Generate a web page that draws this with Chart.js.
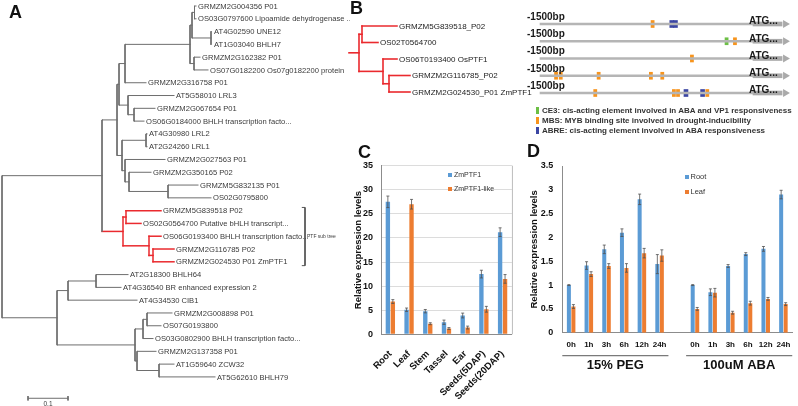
<!DOCTYPE html>
<html>
<head>
<meta charset="utf-8">
<script src="https://cdn.jsdelivr.net/npm/chart.js@4.4.1/dist/chart.umd.min.js"></script>
<style>
  html, body { margin: 0; padding: 0; background: #fff; }
  body { width: 798px; height: 406px; position: relative; overflow: hidden;
         font-family: "Liberation Sans", Arial, sans-serif; }
  canvas { position: absolute; }
  .tag { position: absolute; font-weight: bold; font-size: 18px; line-height: 18px; color: #111; }
  .sw { position: absolute; }
  .txt { position: absolute; white-space: nowrap; color: #333; }
</style>
</head>
<body>
<canvas id="treeA" width="350" height="406" style="left:0;top:0"></canvas>
<canvas id="treeB" width="200" height="95" style="left:340px;top:10px"></canvas>
<canvas id="promoter" width="278" height="90" style="left:520px;top:10px"></canvas>
<canvas id="chartC" width="185" height="256" style="left:340px;top:150px"></canvas>
<canvas id="chartD" width="275" height="256" style="left:523px;top:150px"></canvas>

<div class="tag" style="left:9px;top:3px">A</div>
<div class="tag" style="left:350px;top:-1px">B</div>
<div class="tag" style="left:358px;top:143px">C</div>
<div class="tag" style="left:527px;top:142px">D</div>

<!-- promoter legend -->
<div class="sw" style="left:536px;top:106.5px;width:3px;height:7px;background:#6cbf45"></div>
<div class="txt" style="left:542px;top:105.5px;font-size:8px;line-height:9px;font-weight:bold">CE3: cis-acting element involved in ABA and VP1 responsiveness</div>
<div class="sw" style="left:536px;top:116.5px;width:3px;height:7px;background:#f7941d"></div>
<div class="txt" style="left:542px;top:115.5px;font-size:8px;line-height:9px;font-weight:bold">MBS: MYB binding site involved in drought-inducibility</div>
<div class="sw" style="left:536px;top:126.5px;width:3px;height:7px;background:#3b46a3"></div>
<div class="txt" style="left:542px;top:125.5px;font-size:8px;line-height:9px;font-weight:bold">ABRE: cis-acting element involved in ABA responsiveness</div>

<!-- chart C legend -->
<div class="sw" style="left:447.5px;top:173px;width:4px;height:4px;background:#5b9bd5"></div>
<div class="txt" style="left:454px;top:171px;font-size:7px;line-height:8px">ZmPTF1</div>
<div class="sw" style="left:447.5px;top:187px;width:4px;height:4px;background:#ed7d31"></div>
<div class="txt" style="left:454px;top:185px;font-size:7px;line-height:8px">ZmPTF1-like</div>

<!-- chart D legend -->
<div class="sw" style="left:685px;top:175px;width:4px;height:4px;background:#5b9bd5"></div>
<div class="txt" style="left:690.5px;top:173px;font-size:7.5px;line-height:8px">Root</div>
<div class="sw" style="left:685px;top:190px;width:4px;height:4px;background:#ed7d31"></div>
<div class="txt" style="left:690.5px;top:188px;font-size:7.5px;line-height:8px">Leaf</div>

<script>
// ---------- data ----------
const treeALeaves = [
  'GRMZM2G004356 P01', 'OS03G0797600 Lipoamide dehydrogenase ...', 'AT4G02590 UNE12',
  'AT1G03040 BHLH7', 'GRMZM2G162382 P01', 'OS07G0182200 Os07g0182200 protein',
  'GRMZM2G316758 P01', 'AT5G58010 LRL3', 'GRMZM2G067654 P01',
  'OS06G0184000 BHLH transcription facto...', 'AT4G30980 LRL2', 'AT2G24260 LRL1',
  'GRMZM2G027563 P01', 'GRMZM2G350165 P02', 'GRMZM5G832135 P01', 'OS02G0795800',
  'GRMZM5G839518 P02', 'OS02G0564700 Putative bHLH transcript...',
  'OS06G0193400 BHLH transcription facto...', 'GRMZM2G116785 P02', 'GRMZM2G024530 P01 ZmPTF1',
  'AT2G18300 BHLH64', 'AT4G36540 BR enhanced expression 2', 'AT4G34530 CIB1',
  'GRMZM2G008898 P01', 'OS07G0193800', 'OS03G0802900 BHLH transcription facto...',
  'GRMZM2G137358 P01', 'AT1G59640 ZCW32', 'AT5G62610 BHLH79'
];
// topology with branch lengths, leaves referenced by index
const treeANewick = '((((((((0:0.00375,1:0.00375):0.00625,(2:0.0025,3:0.0025):0.0475):0.005,(4:0.015,5:0.035):0.01):0.1625,6:0.0525):0.015,(7:0.115,(8:0.0525,9:0.025):0.015):0.0225):0.005,((10:0.0025,11:0.0025):0.06,(12:0.1,(13:0.055,(14:0.075,15:0.1075):0.0975):0.01):0.0075):0.0125):0.0375,((16:0.0875,17:0.0375):0.0075,(18:0.03,(19:0.0525,20:0.0525):0.01):0.065):0.0525):0.25,(((21:0.08,22:0.0625):0.07,23:0.1725):0.0275,(((24:0.0625,25:0.035):0.01,26:0.025):0.02,(27:0.0475,(28:0.0375,29:0.14):0.055):0.005):0.195):0.1375);';
const ptfSubTree = [16, 17, 18, 19, 20];

const treeBLeaves = ['GRMZM5G839518_P02', 'OS02T0564700', 'OS06T0193400 OsPTF1',
  'GRMZM2G116785_P02', 'GRMZM2G024530_P01 ZmPTF1'];
const treeBNewick = '(((0:0.0875,1:0.04):0.0075,(2:0.035,(3:0.0525,4:0.0525):0.015):0.06):0.025);';

const promoterRows = [0, 1, 2, 3, 4];
const mbsRow = [0, 1, 2, 3, 3, 3, 3, 3, 4, 4, 4, 4];
const mbsPos = [-707, -127, -430, -1387, -1354, -1087, -719, -639, -1111, -557, -528, -322];
const ce3Row = [1];
const ce3Pos = [-186];
const abreRow = [0, 0, 4, 4];
const abrePos = [-572, -546, -472, -355];

const tissues = ['Root', 'Leaf', 'Stem', 'Tassel', 'Ear', 'Seeds(5DAP)', 'Seeds(20DAP)'];
const ptf1 = [27.5, 5.1, 4.8, 2.5, 3.9, 12.5, 21.2];
const ptf1Err = [1.2, 0.35, 0.35, 0.45, 0.5, 0.8, 0.9];
const ptf1Like = [6.8, 27.0, 2.2, 1.2, 1.4, 5.2, 11.5];
const ptf1LikeErr = [0.4, 1.0, 0.2, 0.2, 0.3, 0.6, 0.9];

const times = ['0h', '1h', '3h', '6h', '12h', '24h', '', '0h', '1h', '3h', '6h', '12h', '24h'];
const rootVals = [1.0, 1.41, 1.75, 2.10, 2.80, 1.44, null, 1.0, 0.85, 1.40, 1.65, 1.76, 2.90];
const rootErr = [0.01, 0.08, 0.09, 0.08, 0.11, 0.2, null, 0.01, 0.07, 0.03, 0.03, 0.05, 0.09];
const leafVals = [0.55, 1.23, 1.40, 1.36, 1.67, 1.62, null, 0.50, 0.84, 0.42, 0.62, 0.71, 0.60];
const leafErr = [0.04, 0.05, 0.05, 0.09, 0.1, 0.12, null, 0.03, 0.09, 0.03, 0.04, 0.03, 0.03];
const treatments = ['15% PEG', '100uM ABA'];
const treatmentFrom = [0, 7];
const treatmentTo = [5, 12];

const BLUE = '#5b9bd5', ORANGE = '#ed7d31';
const FONT = '"Liberation Sans", Arial, sans-serif';

// ---------- trees ----------
function parseNewick(s) {
  let i = 0;
  function node() {
    const n = {children: []};
    if (s[i] === '(') {
      i++;
      n.children.push(node());
      while (s[i] === ',') { i++; n.children.push(node()); }
      i++;
    }
    let name = '';
    while (i < s.length && !':,();'.includes(s[i])) name += s[i++];
    n.name = name;
    n.len = 0;
    if (s[i] === ':') {
      i++;
      let num = '';
      while (i < s.length && !',();'.includes(s[i])) num += s[i++];
      n.len = parseFloat(num);
    }
    return n;
  }
  return node();
}

function treeChart(id, newick, names, cfg) {
  const root = parseNewick(newick);
  const leaves = [];
  (function walk(n, px) {
    n.x = px + n.len;
    n.children.forEach(c => walk(c, n.x));
    if (!n.children.length) { n.row = +n.name; leaves.push(n); n.red = cfg.isRed(n.row); }
    else {
      n.row = (n.children[0].row + n.children[n.children.length - 1].row) / 2;
      n.red = n.children.every(c => c.red);
    }
  })(root, 0);

  const datasets = [];
  const seg = (a, b, red) => datasets.push({
    data: [a, b], showLine: true, pointRadius: 0, borderCapStyle: 'square',
    borderColor: red ? cfg.red : cfg.grey, borderWidth: red ? cfg.redWidth : 1
  });
  (function edges(n) {
    if (n.children.length) {
      const f = n.children[0], l = n.children[n.children.length - 1];
      if (f !== l) seg({x: n.x, y: f.row}, {x: n.x, y: l.row}, n.red);
      n.children.forEach(c => { seg({x: n.x, y: c.row}, {x: c.x, y: c.row}, c.red); edges(c); });
    }
  })(root);
  (cfg.extra || []).forEach(d => datasets.push(Object.assign(
    {showLine: true, pointRadius: 0, borderColor: cfg.grey, borderWidth: 1}, d)));

  const cv = document.getElementById(id);
  const W = cv.width, H = cv.height;
  new Chart(cv, {
    type: 'scatter',
    data: {datasets},
    options: {
      responsive: false, animation: false,
      layout: {padding: 0, autoPadding: false},
      plugins: {legend: {display: false}, tooltip: {enabled: false}},
      scales: {
        x: {type: 'linear', display: false, min: -cfg.x0 / cfg.unit, max: (W - cfg.x0) / cfg.unit},
        y: {type: 'linear', display: false, reverse: true,
            min: -cfg.y0 / cfg.row, max: (H - cfg.y0) / cfg.row}
      }
    },
    plugins: [{
      id: 'leafLabels',
      afterDatasetsDraw(chart) {
        const {ctx, scales: {x, y}} = chart;
        ctx.save();
        ctx.font = cfg.font;
        ctx.fillStyle = cfg.text;
        ctx.textBaseline = 'middle';
        leaves.forEach(l => ctx.fillText(names[+l.name],
          x.getPixelForValue(l.x) + 2, y.getPixelForValue(l.row) + 0.5));
        if (cfg.afterDraw) cfg.afterDraw(ctx, x, y);
        ctx.restore();
      }
    }]
  });
}

const subTop = ptfSubTree[0] - 0.25, subBot = ptfSubTree[ptfSubTree.length - 1] + 0.3;
treeChart('treeA', treeANewick, treeALeaves, {
  x0: 2, unit: 400, y0: 6, row: 12.79,
  isRed: r => ptfSubTree.includes(r),
  grey: '#6e6e6e', red: '#ea2a2e', redWidth: 1.5,
  font: '7.6px ' + FONT, text: '#3a3a3a',
  extra: [
    {data: [{x: 0.065, y: 30.67}, {x: 0.165, y: 30.67}]},
    {data: [{x: 0.065, y: 30.5}, {x: 0.065, y: 30.84}]},
    {data: [{x: 0.165, y: 30.5}, {x: 0.165, y: 30.84}]},
    {data: [{x: 0.7495, y: subTop}, {x: 0.7575, y: subTop}, {x: 0.7575, y: subBot}, {x: 0.7495, y: subBot}], borderColor: '#555'}
  ],
  afterDraw(ctx, x, y) {
    ctx.font = '6.5px ' + FONT;
    ctx.textAlign = 'center';
    ctx.fillText('0.1', x.getPixelForValue(0.115), y.getPixelForValue(31.1));
    ctx.textAlign = 'left';
    ctx.font = '5px ' + FONT;
    ctx.fillText('PTF sub tree', x.getPixelForValue(0.7625), y.getPixelForValue((subTop + subBot) / 2));
  }
});

treeChart('treeB', treeBNewick, treeBLeaves, {
  x0: 9, unit: 400, y0: 16, row: 16.5,
  isRed: () => true,
  grey: '#6e6e6e', red: '#ea2a2e', redWidth: 1.6,
  font: '8px ' + FONT, text: '#222'
});

// ---------- promoter map ----------
const box = 11;
new Chart(document.getElementById('promoter'), {
  type: 'bar',
  data: {
    datasets: [
      {data: promoterRows.map(r => ({x: [-1500, 0], y: r})), backgroundColor: '#b5b5b5', barThickness: 1.6, grouped: false},
      {data: promoterRows.map(r => ({x: [0, 205], y: r})), backgroundColor: '#aaaaaa', barThickness: 4, grouped: false},
      {type: 'scatter', data: promoterRows.map(r => ({x: 228, y: r})), pointStyle: 'triangle', rotation: 90,
       pointRadius: 4.6, backgroundColor: '#aaaaaa', borderWidth: 0},
      {data: mbsPos.map((p, i) => ({x: [p - box, p + box], y: mbsRow[i]})), backgroundColor: '#f7941d', barThickness: 7, grouped: false},
      {data: ce3Pos.map((p, i) => ({x: [p - box, p + box], y: ce3Row[i]})), backgroundColor: '#6cbf45', barThickness: 7, grouped: false},
      {data: abrePos.map((p, i) => ({x: [p - 14, p + 14], y: abreRow[i]})), backgroundColor: '#3b46a3', barThickness: 7, grouped: false}
    ]
  },
  options: {
    indexAxis: 'y', responsive: false, animation: false,
    layout: {padding: 0, autoPadding: false},
    plugins: {legend: {display: false}, tooltip: {enabled: false}},
    scales: {
      x: {type: 'linear', display: false, min: -1641, max: 317},
      y: {type: 'linear', display: false, reverse: true, offset: false, min: -14 / 17.25, max: 76 / 17.25}
    }
  },
  plugins: [{
    id: 'promoterText',
    afterDatasetsDraw(chart) {
      const {ctx, scales: {x, y}} = chart;
      ctx.save();
      ctx.fillStyle = '#1a1a1a';
      ctx.textBaseline = 'middle';
      ctx.font = 'bold 10px ' + FONT;
      promoterRows.forEach(r => {
        ctx.fillText('-1500bp', x.getPixelForValue(-1500) - 13, y.getPixelForValue(r) - 7);
        ctx.fillText('ATG...', x.getPixelForValue(0) - 4, y.getPixelForValue(r) - 2.5);
      });
      ctx.restore();
    }
  }]
});

// ---------- bar charts ----------
const errorBars = {
  id: 'errorBars',
  afterDatasetsDraw(chart) {
    const {ctx, scales: {y}} = chart;
    ctx.save();
    ctx.strokeStyle = '#505050';
    ctx.lineWidth = 0.8;
    chart.data.datasets.forEach((ds, i) => {
      chart.getDatasetMeta(i).data.forEach((bar, j) => {
        const v = ds.data[j], e = ds.errors[j];
        if (v == null || e == null) return;
        const t = y.getPixelForValue(v + e), b = y.getPixelForValue(v - e);
        ctx.beginPath();
        ctx.moveTo(bar.x, t); ctx.lineTo(bar.x, b);
        ctx.moveTo(bar.x - 1.5, t); ctx.lineTo(bar.x + 1.5, t);
        ctx.moveTo(bar.x - 1.5, b); ctx.lineTo(bar.x + 1.5, b);
        ctx.stroke();
      });
    });
    ctx.restore();
  }
};

const yTitle = {display: true, text: 'Relative expression levels', color: '#111',
  font: {family: FONT, size: 9.5, weight: 'bold'}, padding: {top: 4, bottom: 0}};

new Chart(document.getElementById('chartC'), {
  type: 'bar',
  data: {
    labels: tissues,
    datasets: [
      {label: 'ZmPTF1', data: ptf1, errors: ptf1Err, backgroundColor: BLUE},
      {label: 'ZmPTF1-like', data: ptf1Like, errors: ptf1LikeErr, backgroundColor: ORANGE}
    ]
  },
  options: {
    responsive: false, animation: false,
    layout: {padding: {left: 8.3, right: 5, top: 15.7, bottom: 0}, autoPadding: false},
    datasets: {bar: {categoryPercentage: 0.53, barPercentage: 0.88}},
    plugins: {legend: {display: false}, tooltip: {enabled: false}},
    scales: {
      x: {
        grid: {display: false, drawTicks: false}, border: {color: '#8c8c8c'},
        ticks: {color: '#111', font: {family: FONT, size: 9.5, weight: 'bold'},
                minRotation: 45, maxRotation: 45, autoSkip: false, padding: 14},
        afterFit(s) { s.height = 71.7; }
      },
      y: {
        min: 0, max: 35,
        grid: {color: '#dcdcdc', drawTicks: false}, border: {color: '#8c8c8c'},
        ticks: {stepSize: 5, padding: 8, color: '#111', font: {family: FONT, size: 9, weight: 'bold'}},
        title: yTitle,
        afterFit(s) { s.width = 32.7; }
      }
    }
  },
  plugins: [errorBars, {
    id: 'frame',
    beforeDatasetsDraw(chart) {
      const {ctx, chartArea: a} = chart;
      ctx.save();
      ctx.strokeStyle = '#bdbdbd';
      ctx.lineWidth = 1;
      ctx.beginPath();
      ctx.moveTo(a.right + 0.5, a.top);
      ctx.lineTo(a.right + 0.5, a.bottom);
      ctx.stroke();
      ctx.restore();
    }
  }]
});

new Chart(document.getElementById('chartD'), {
  type: 'bar',
  data: {
    labels: times,
    datasets: [
      {label: 'Root', data: rootVals, errors: rootErr, backgroundColor: BLUE},
      {label: 'Leaf', data: leafVals, errors: leafErr, backgroundColor: ORANGE}
    ]
  },
  options: {
    responsive: false, animation: false,
    layout: {padding: {left: 1.3, right: 5.3, top: 16, bottom: 0}, autoPadding: false},
    datasets: {bar: {categoryPercentage: 0.51, barPercentage: 0.89}},
    plugins: {legend: {display: false}, tooltip: {enabled: false}},
    scales: {
      x: {
        grid: {display: false, drawTicks: false}, border: {color: '#8c8c8c'},
        ticks: {color: '#111', font: {family: FONT, size: 8, weight: 'bold'},
                maxRotation: 0, autoSkip: false, padding: 7.5},
        afterFit(s) { s.height = 73.3; }
      },
      y: {
        min: 0, max: 3.5,
        grid: {display: false, drawTicks: false}, border: {color: '#8c8c8c'},
        ticks: {stepSize: 0.5, padding: 9, color: '#111', font: {family: FONT, size: 9, weight: 'bold'},
                callback: v => String(+v.toFixed(1))},
        title: yTitle,
        afterFit(s) { s.width = 38; }
      }
    }
  },
  plugins: [errorBars, {
    id: 'treatments',
    afterDraw(chart) {
      const {ctx, chartArea: a, scales: {x}} = chart;
      const half = (x.getPixelForValue(1) - x.getPixelForValue(0)) / 2;
      ctx.save();
      treatments.forEach((t, i) => {
        const x1 = x.getPixelForValue(treatmentFrom[i]) - half;
        const x2 = x.getPixelForValue(treatmentTo[i]) + half;
        ctx.strokeStyle = '#7a7a7a';
        ctx.lineWidth = 1.3;
        ctx.beginPath();
        ctx.moveTo(x1, a.bottom + 23);
        ctx.lineTo(x2, a.bottom + 23);
        ctx.stroke();
        ctx.fillStyle = '#111';
        ctx.font = 'bold 13px ' + FONT;
        ctx.textAlign = 'center';
        ctx.textBaseline = 'middle';
        ctx.fillText(t, (x1 + x2) / 2, a.bottom + 33);
      });
      ctx.restore();
    }
  }]
});
</script>
</body>
</html>
